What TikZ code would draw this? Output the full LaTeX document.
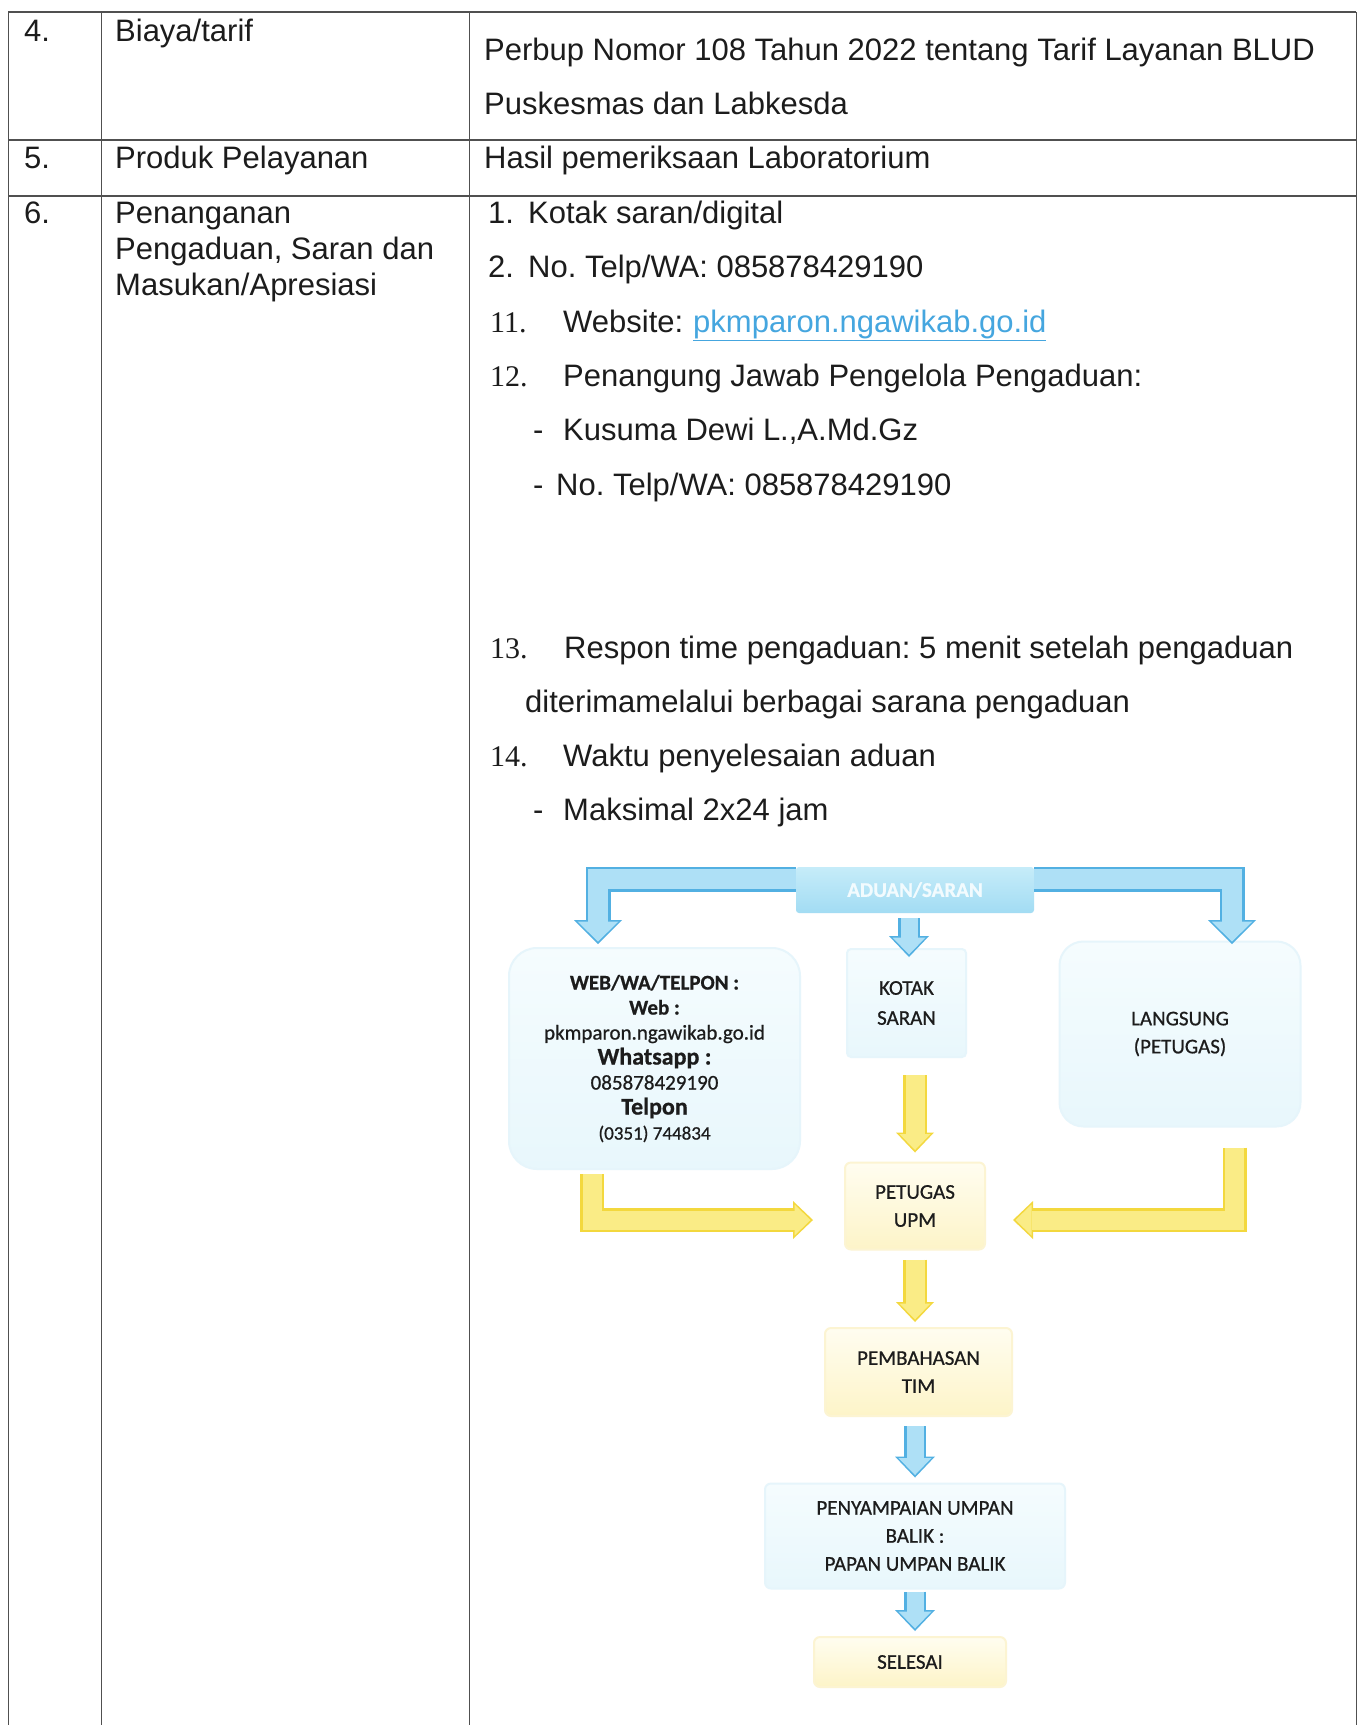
\documentclass[tikz,border=0pt]{standalone}
\usepackage{fontspec}
\setmainfont{Liberation Sans}
\newfontfamily\numserif{Liberation Serif}
\newfontfamily\flowfont{Carlito}[FakeBold=0.7]
\usetikzlibrary{arrows.meta}
\frenchspacing

\definecolor{ruleclr}{HTML}{505050}
\definecolor{inkclr}{HTML}{1C1C1C}
\definecolor{linkclr}{HTML}{45A6DF}
\definecolor{bluedge}{HTML}{52B0E2}
\definecolor{bluebody}{HTML}{AEE0F6}
\definecolor{yelledge}{HTML}{F3D83E}
\definecolor{yellbody}{HTML}{FAEC86}
\definecolor{palebluetop}{HTML}{F5FCFE}
\definecolor{palebluebot}{HTML}{E8F7FC}
\definecolor{palebluerim}{HTML}{E6F5FB}
\definecolor{paleyelltop}{HTML}{FFFDF0}
\definecolor{paleyellbot}{HTML}{FDF4C8}
\definecolor{paleyellrim}{HTML}{FCF4D2}
\definecolor{hdrtop}{HTML}{C6ECF9}
\definecolor{hdrbot}{HTML}{A2DCF3}
\definecolor{hdrink}{HTML}{F2FBFE}

\tikzset{
  body/.style={anchor=base west, inner sep=0pt, text=inkclr, font=\fontsize{31}{36}\selectfont},
  numlbl/.style={anchor=base west, inner sep=0pt, text=inkclr, font=\numserif\fontsize{30}{36}\selectfont},
  rowrule/.style={draw=ruleclr, line width=1.4pt},
  colrule/.style={draw=ruleclr, line width=0.9pt},
  flowtxt/.style={font=\flowfont\fontsize{21}{28}\selectfont, text=inkclr, align=center, inner sep=0pt},
  bluebox/.style={flowtxt, draw=palebluerim, line width=2pt, top color=palebluetop, bottom color=palebluebot, rounded corners=#1},
  bluebox/.default=6pt,
  yellbox/.style={flowtxt, draw=paleyellrim, line width=2pt, top color=paleyelltop, bottom color=paleyellbot, rounded corners=6pt},
  hdrbox/.style={flowtxt, text=hdrink, font=\flowfont\bfseries\fontsize{21}{28}\selectfont, top color=hdrtop, bottom color=hdrbot, rounded corners=3pt},
  % two-layer block arrows: a darker rim under a lighter body
  bigblueA/.style={draw=bluedge, line width=25pt, -{Triangle[length=24pt, width=48pt, line width=0pt]}},
  bigblueB/.style={draw=bluebody, line width=20pt, shorten >=2.5pt, -{Triangle[length=20pt, width=41pt, line width=0pt]}},
  smallblueA/.style={draw=bluedge, line width=22pt, -{Triangle[length=21pt, width=40pt, line width=0pt]}},
  smallblueB/.style={draw=bluebody, line width=17pt, shorten >=2.5pt, -{Triangle[length=17pt, width=33pt, line width=0pt]}},
  yellA/.style={draw=yelledge, line width=24pt, -{Triangle[length=20pt, width=38pt, line width=0pt]}},
  yellB/.style={draw=yellbody, line width=19pt, shorten >=2.5pt, -{Triangle[length=16pt, width=31pt, line width=0pt]}},
}

\begin{document}
\begin{tikzpicture}[x=1pt,y=-1pt]
\useasboundingbox[fill=white] (0,0) rectangle (1364,1725);

% ---- table grid ----
\draw[rowrule] (8,12) -- (1356,12);
\draw[rowrule] (8,140) -- (1356,140);
\draw[rowrule] (8,196) -- (1356,196);
\draw[colrule] (8,12) -- (8,1725);
\draw[colrule] (101,12) -- (101,1725);
\draw[colrule] (469,12) -- (469,1725);
\draw[colrule] (1356,12) -- (1356,1725);

% ---- row 4 ----
\node[body] (n4) at (24,41) {4.};
\node[body] (t4) at (115,41) {Biaya/tarif};
\node[body] (d4a) at (484,60.5) {Perbup Nomor 108 Tahun 2022 tentang Tarif Layanan BLUD};
\node[body] (d4b) at (484,114) {Puskesmas dan Labkesda};

% ---- row 5 ----
\node[body] (n5) at (24,168) {5.};
\node[body] (t5) at (115,168) {Produk Pelayanan};
\node[body] (d5) at (484,168) {Hasil pemeriksaan Laboratorium};

% ---- row 6 ----
\node[body] (n6) at (24,223) {6.};
\node[body] (t6a) at (115,223) {Penanganan};
\node[body] (t6b) at (115,259) {Pengaduan, Saran dan};
\node[body] (t6c) at (115,295) {Masukan/Apresiasi};

\node[body] (i1) at (488,223) {1.};
\node[body] (i1t) at (528,223) {Kotak saran/digital};
\node[body] (i2) at (488,277) {2.};
\node[body] (i2t) at (528,277) {No. Telp/WA: 085878429190};
\node[numlbl] (i11) at (490,332) {11.};
\node[body] (i11t) at (563,332) {Website:};
\node[body, text=linkclr] (link) at (693,332) {\underline{pkmparon.ngawikab.go.id}};
\node[numlbl] (i12) at (490,386) {12.};
\node[body] (i12t) at (563,386) {Penangung Jawab Pengelola Pengaduan:};
\node[body] (k1) at (533,440) {-};
\node[body] (k1t) at (563,440) {Kusuma Dewi L.,A.Md.Gz};
\node[body] (k2) at (533,495) {-};
\node[body] (k2t) at (556,495) {No. Telp/WA: 085878429190};
\node[numlbl] (i13) at (490,658) {13.};
\node[body] (i13t) at (564,658) {Respon time pengaduan: 5 menit setelah pengaduan};
\node[body] (i13u) at (525,712) {diterimamelalui berbagai sarana pengaduan};
\node[numlbl] (i14) at (490,766) {14.};
\node[body] (i14t) at (563,766) {Waktu penyelesaian aduan};
\node[body] (m1) at (533,820) {-};
\node[body] (m1t) at (563,820) {Maksimal 2x24 jam};

% ---- complaint flow ----
\node[hdrbox, minimum width=238pt, minimum height=46pt] (hdr) at (915,890) {ADUAN/SARAN};

\node[bluebox=28pt, minimum width=291pt, minimum height=221pt,
      font=\flowfont\fontsize{21}{25}\selectfont] (web) at (654.5,1058.5)
  {\textbf{WEB/WA/TELPON :}\\ \textbf{Web :}\\ pkmparon.ngawikab.go.id\\
   {\fontsize{24}{25}\selectfont\textbf{Whatsapp :}}\\ 085878429190\\
   {\fontsize{24}{25}\selectfont\textbf{Telpon}}\\ {\fontsize{19}{25}\selectfont (0351) 744834}};
\node[bluebox=4pt, minimum width=119pt, minimum height=108pt,
      font=\flowfont\fontsize{21}{30}\selectfont] (kotak) at (906.5,1003) {KOTAK\\SARAN};
\node[bluebox=24pt, minimum width=241pt, minimum height=185pt] (lang) at (1180,1034) {LANGSUNG\\(PETUGAS)};

\node[yellbox, minimum width=140pt, minimum height=87pt] (upm) at (915,1206) {PETUGAS\\UPM};
\node[yellbox, minimum width=187pt, minimum height=88pt] (pemb) at (918.5,1372) {PEMBAHASAN\\TIM};
\node[bluebox, minimum width=300pt, minimum height=105pt] (peny) at (915,1536) {PENYAMPAIAN UMPAN\\BALIK :\\PAPAN UMPAN BALIK};
\node[yellbox, minimum width=192pt, minimum height=50pt] (sel) at (910,1662) {SELESAI};

% arrow end points
\coordinate (tipWL) at (598,944);
\coordinate (tipLG) at (1232,944);
\coordinate (tipKS) at (909,957);

% blue arrows from the header
\draw[bigblueA] ([yshift=11pt]hdr.west) -| (tipWL);
\draw[bigblueB] ([yshift=11pt]hdr.west) -| (tipWL);
\draw[bigblueA] ([yshift=11pt]hdr.east) -| (tipLG);
\draw[bigblueB] ([yshift=11pt]hdr.east) -| (tipLG);
\draw[smallblueA] ([yshift=-5pt]hdr.south -| tipKS) -- (tipKS);
\draw[smallblueB] ([yshift=-5pt]hdr.south -| tipKS) -- (tipKS);

% yellow arrows into PETUGAS UPM
\draw[yellA] ([yshift=-17pt]kotak.south -| upm.north) -- ([yshift=9pt]upm.north);
\draw[yellB] ([yshift=-17pt]kotak.south -| upm.north) -- ([yshift=9pt]upm.north);
\draw[yellA] ([xshift=84pt,yshift=-4pt]web.south west) |- ([xshift=-31pt,yshift=-14pt]upm.west);
\draw[yellB] ([xshift=84pt,yshift=-4pt]web.south west) |- ([xshift=-31pt,yshift=-14pt]upm.west);
\draw[yellA] ([xshift=-67pt,yshift=-20pt]lang.south east) |- ([xshift=27pt,yshift=-14pt]upm.east);
\draw[yellB] ([xshift=-67pt,yshift=-20pt]lang.south east) |- ([xshift=27pt,yshift=-14pt]upm.east);

% downward chain
\draw[yellA] ([yshift=-9pt]upm.south) -- ([yshift=5pt]pemb.north -| upm.south);
\draw[yellB] ([yshift=-9pt]upm.south) -- ([yshift=5pt]pemb.north -| upm.south);
\draw[smallblueA] ([yshift=-9pt]pemb.south -| peny.north) -- ([yshift=5pt]peny.north);
\draw[smallblueB] ([yshift=-9pt]pemb.south -| peny.north) -- ([yshift=5pt]peny.north);
\draw[smallblueA] ([yshift=-2pt]peny.south) -- ([yshift=5pt]sel.north -| peny.south);
\draw[smallblueB] ([yshift=-2pt]peny.south) -- ([yshift=5pt]sel.north -| peny.south);
\end{tikzpicture}
\end{document}
